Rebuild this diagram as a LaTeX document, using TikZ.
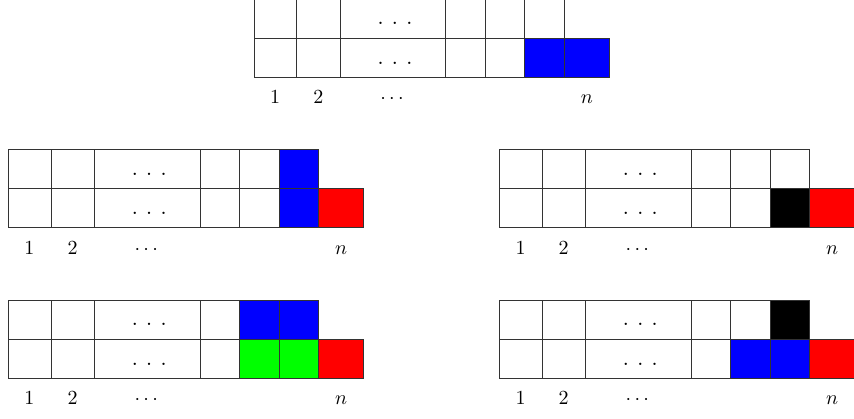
\documentclass[tikz,border=0pt]{standalone}
\usetikzlibrary{calc}
\begin{document}
\begin{tikzpicture}[x=0.5pt,y=-0.5pt,
  gridline/.style={draw=black!80,line width=0.5pt},
  dotstext/.style={anchor=base,inner sep=0pt,font=\large},
  labeltext/.style={anchor=base,inner sep=0pt,font=\normalsize}]
\useasboundingbox (0,0) rectangle (854,418);
\def\rh{39.2}
% column borders: c0..c7
\def\cellsTop{0/42.8,42.8/86,86/191.8,191.8/231.5,231.5/270.8,270.8/310.3}
\def\cellsBot{0/42.8,42.8/86,86/191.8,191.8/231.5,231.5/270.8,270.8/310.3,310.3/355.3}
% \mypanel{name}{ox}{oy}{fills: x1/x2/row/colour}
\newcommand\mypanel[4]{%
 \begin{scope}[shift={(#2,#3)}]
  \foreach \xa/\xb/\r/\col in {#4}{%
    \fill[\col] (\xa,{\r*\rh}) rectangle (\xb,{(\r+1)*\rh});
  }
  \foreach \xa/\xb in \cellsTop{%
    \draw[gridline] (\xa,0) rectangle (\xb,\rh);
  }
  \foreach \xa/\xb in \cellsBot{%
    \draw[gridline] (\xa,\rh) rectangle (\xb,{2*\rh});
  }
  \node[dotstext] (#1dotsa) at (141,25.8) {$.\hspace{3.9pt}.\hspace{3.9pt}.$};
  \node[dotstext] (#1dotsb) at (141,{\rh+25.8}) {$.\hspace{3.9pt}.\hspace{3.9pt}.$};
  \node[labeltext] (#1la) at (21.2,{2*\rh+26.5}) {$1$};
  \node[labeltext] (#1lb) at (64.3,{2*\rh+26.5}) {$2$};
  \node[labeltext] (#1lc) at (138,{2*\rh+26.5}) {$\cdots$};
  \node[labeltext] (#1ln) at (332.8,{2*\rh+26.5}) {$n$};
 \end{scope}}
\mypanel{top}{254}{-1}{270.8/310.3/1/blue,310.3/355.3/1/blue}
\mypanel{ml}{8.3}{149.3}{270.8/310.3/0/blue,270.8/310.3/1/blue,310.3/355.3/1/red}
\mypanel{mr}{499.3}{149.3}{270.8/310.3/1/black,310.3/355.3/1/red}
\mypanel{bl}{8.3}{300}{231.5/270.8/0/blue,270.8/310.3/0/blue,231.5/270.8/1/green,270.8/310.3/1/green,310.3/355.3/1/red}
\mypanel{br}{499.3}{300}{270.8/310.3/0/black,231.5/270.8/1/blue,270.8/310.3/1/blue,310.3/355.3/1/red}
\end{tikzpicture}
\end{document}
